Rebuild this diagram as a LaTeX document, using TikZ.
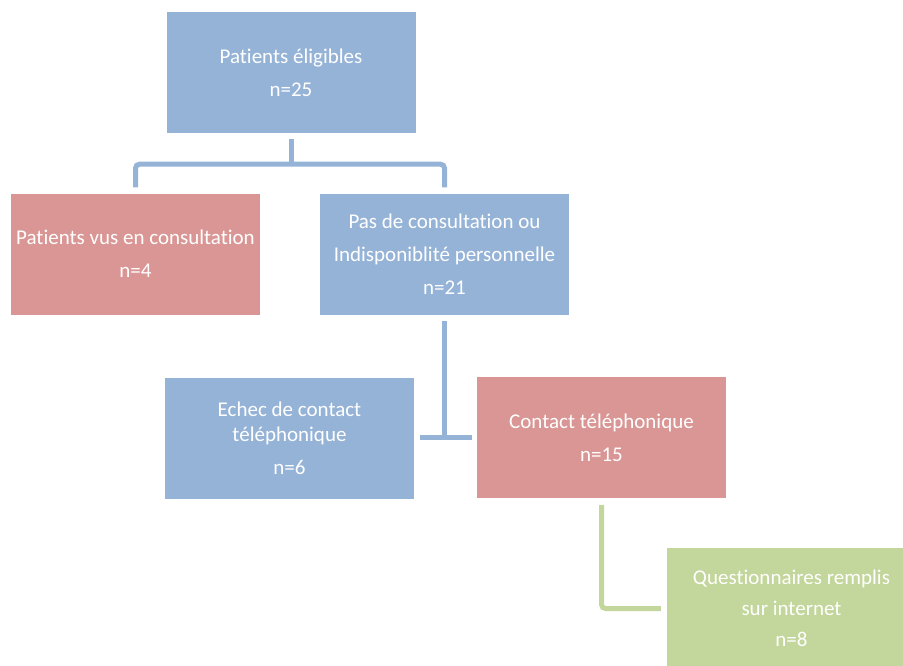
\documentclass[tikz,border=0pt]{standalone}
\usepackage{fontspec}
\setmainfont{Carlito}[Ligatures=NoCommon]
\usepackage{tikz}
\usetikzlibrary{calc}
\definecolor{boxblue}{RGB}{149,179,215}
\definecolor{boxred}{RGB}{217,150,148}
\definecolor{boxgreen}{RGB}{195,214,155}
\tikzset{box/.style={minimum width=249pt,minimum height=121pt,inner sep=0pt,align=center,
    text=white,font=\fontsize{21}{33}\selectfont},
  blue box/.style={box,fill=boxblue},red box/.style={box,fill=boxred},green box/.style={box,fill=boxgreen},
  link/.style={line width=5pt,rounded corners=4pt},blue link/.style={link,draw=boxblue},green link/.style={link,draw=boxgreen}}

\begin{document}
\begin{tikzpicture}[x=1pt,y=-1pt]
	\useasboundingbox (0,0) rectangle (903,665);
	% boxes
	\node[blue box] (elig) at (291,72.5) {Patients éligibles\\n=25};
	\node[red box] (vus) at (135.5,254) {Patients vus en consultation\\n=4};
	\node[blue box] (pas) at (444.5,254) {Pas de consultation ou\\Indisponiblité personnelle\\n=21};
	\node[blue box] (echec) at (289.5,438.5) {Echec de contact\\[-8pt]téléphonique\\n=6};
	\node[red box] (contact) at (601.5,437.5) {Contact téléphonique\\n=15};
	\node[green box] (quest) at (791.5,608.5) {Questionnaires remplis\\[-2pt]sur internet\\[-2pt]n=8};
	% connectors
	\coordinate (fork) at ($(elig.south)+(0,31)$);
	\draw[blue link] ([yshift=-6pt]elig.south) -- (fork);
	\draw[blue link] ([yshift=6pt]vus.north) |- (fork) -| ([yshift=6pt]pas.north);
	\coordinate (split) at ($(pas.south)+(0,123)$);
	\draw[blue link,rounded corners=0pt] ([yshift=-6pt]pas.south) -- (split);
	\draw[blue link,rounded corners=0pt] ([xshift=6pt]echec.east |- split) -- ([xshift=-5pt]contact.west |- split);
	\draw[green link] ([yshift=-7pt]contact.south) |- ([xshift=-6pt]quest.west);
\end{tikzpicture}
\end{document}
